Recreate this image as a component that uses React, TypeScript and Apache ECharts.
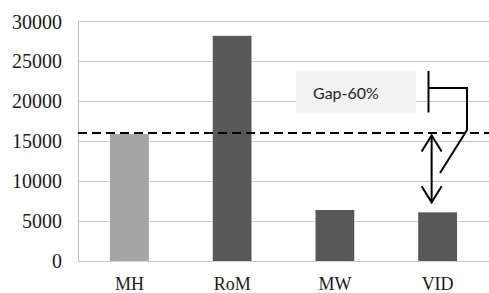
import React, { useEffect, useRef } from "react";
import * as echarts from "echarts";

const categories = ["MH", "RoM", "MW", "VID"];
const values = [15900, 28200, 6400, 6100];
const barColors = ["#a5a5a5", "#595959", "#595959", "#595959"];
const gapLevel = 16100;
const gapLabel = "Gap-60%";
const yTicks = { min: 0, max: 30000, interval: 5000 };

export default function App() {
  const ref = useRef<HTMLDivElement>(null);
  useEffect(() => {
    if (!ref.current) return;
    const chart = echarts.init(ref.current, undefined, { renderer: "svg" });
    const option: any = {
      animation: false,
      backgroundColor: "#ffffff",
      textStyle: { fontFamily: "Liberation Serif" },
      grid: { left: 78, right: 0, top: 21.5, bottom: 31.5, containLabel: false },
      xAxis: {
        type: "category",
        data: categories,
        axisLine: { show: true, lineStyle: { color: "#bfbfbf", width: 1 } },
        axisTick: { show: false },
        axisLabel: {
          margin: 14,
          fontFamily: "Liberation Serif",
          fontSize: 18,
          color: "#1a1a1a",
        },
      },
      yAxis: {
        type: "value",
        min: yTicks.min,
        max: yTicks.max,
        interval: yTicks.interval,
        axisLine: { show: true, lineStyle: { color: "#bfbfbf", width: 1 } },
        axisTick: { show: false },
        splitLine: { show: true, lineStyle: { color: "#bfbfbf", width: 1 } },
        axisLabel: {
          margin: 16,
          fontFamily: "Liberation Serif",
          fontSize: 20,
          color: "#1a1a1a",
          formatter: (v: number) => "{n|" + v + "}",
          rich: {
            n: {
              fontFamily: "Liberation Serif",
              fontSize: 20,
              color: "#1a1a1a",
            },
          },
        },
      },
      series: [
        {
          type: "bar",
          barWidth: 39,
          data: values.map((v, i) => ({ value: v, itemStyle: { color: barColors[i] } })),
          itemStyle: {
            shadowBlur: 6,
            shadowColor: "rgba(255,255,255,1)",
          },
          markLine: {
            silent: true,
            symbol: "none",
            label: { show: false },
            lineStyle: { color: "#000000", width: 2, type: [9, 5] },
            data: [{ yAxis: gapLevel }],
          },
        },
      ],
    };
    chart.setOption(option);

    const [vx, gy] = chart.convertToPixel({ xAxisIndex: 0, yAxisIndex: 0 }, [
      categories[3],
      gapLevel,
    ]) as number[];
    const [, by] = chart.convertToPixel({ xAxisIndex: 0, yAxisIndex: 0 }, [
      categories[3],
      values[3],
    ]) as number[];
    const ax = vx - 6;
    const aTop = gy + 3;
    const aBot = by - 10;
    const lineStyle = { stroke: "#000000", lineWidth: 2, fill: null };

    chart.setOption({
      graphic: [
        {
          type: "rect",
          shape: { x: 296, y: 71, width: 120, height: 42 },
          style: { fill: "#f2f2f2" },
          z: 50,
        },
        {
          type: "text",
          x: 313,
          y: 92,
          style: {
            text: gapLabel,
            fontFamily: "Lato",
            fontSize: 16,
            fill: "#262626",
            verticalAlign: "middle",
            align: "left",
          },
          z: 51,
        },
        {
          type: "line",
          shape: { x1: 428.5, y1: 71, x2: 428.5, y2: 112.5 },
          style: lineStyle,
          z: 52,
        },
        {
          type: "polyline",
          shape: { points: [[428.5, 88], [467, 88], [467, 130], [440, 173]] },
          style: lineStyle,
          z: 52,
        },
        {
          type: "line",
          shape: { x1: ax, y1: aTop, x2: ax, y2: aBot },
          style: lineStyle,
          z: 52,
        },
        {
          type: "polyline",
          shape: { points: [[ax - 10, aTop + 16], [ax, aTop], [ax + 10, aTop + 16]] },
          style: lineStyle,
          z: 52,
        },
        {
          type: "polyline",
          shape: { points: [[ax - 10, aBot - 16], [ax, aBot], [ax + 10, aBot - 16]] },
          style: lineStyle,
          z: 52,
        },
      ],
    });
    return () => chart.dispose();
  }, []);
  return (
    <div
      ref={ref}
      style={{ position: "fixed", left: 0, top: 0, width: 489, height: 293 }}
    />
  );
}
